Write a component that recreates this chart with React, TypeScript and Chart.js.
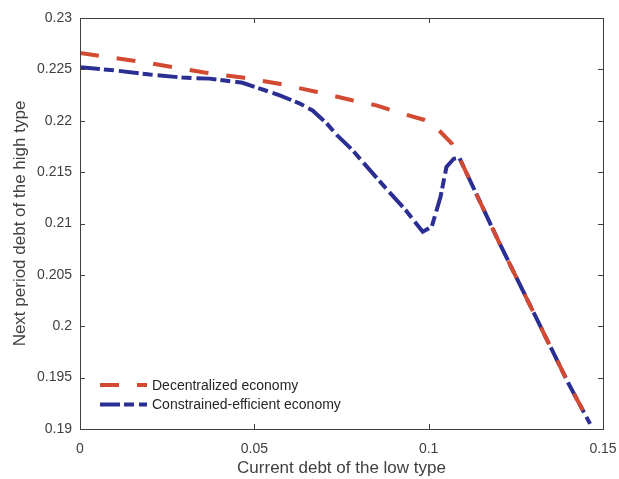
import React, { useEffect, useRef } from "react";
import { Chart, registerables } from "chart.js";

Chart.register(...registerables);

const decX = [0, 0.01, 0.02, 0.0357, 0.0466, 0.0571, 0.068, 0.078, 0.085, 0.0914, 0.0986, 0.1014, 0.1066, 0.1088, 0.12, 0.13, 0.14, 0.1463];
const decY = [0.2266, 0.2261, 0.2256, 0.2247, 0.2242, 0.2236, 0.2228, 0.222, 0.2215, 0.2208, 0.2201, 0.2196, 0.2178, 0.2164, 0.2083, 0.2014, 0.1945, 0.1905];

const ceX = [0, 0.01, 0.02, 0.0294, 0.0371, 0.0466, 0.0571, 0.0629, 0.0667, 0.0706, 0.0737, 0.078, 0.0857, 0.0934, 0.0983, 0.1009, 0.1034, 0.1051, 0.1072, 0.1088, 0.12, 0.13, 0.14, 0.1463];
const ceY = [0.2252, 0.2249, 0.2245, 0.2242, 0.2241, 0.2237, 0.2225, 0.2217, 0.221, 0.2198, 0.2186, 0.2172, 0.2142, 0.2113, 0.2092, 0.2097, 0.2126, 0.2155, 0.2163, 0.2164, 0.2083, 0.2014, 0.1945, 0.1905];

const xTicks = [0, 0.05, 0.1, 0.15];
const yTicks = [0.19, 0.195, 0.2, 0.205, 0.21, 0.215, 0.22, 0.225, 0.23];

const seriesNames = ["Decentralized economy", "Constrained-efficient economy"];
const RED = "#d24a32";
const BLUE = "#2b2e92";
const AXIS = "#404040";
const FONT = "'Liberation Sans', Arial, sans-serif";

const boxPlugin = {
  id: "matlabBox",
  afterDatasetsDraw(chart: any) {
    const { ctx, chartArea: a, scales } = chart;
    const xs = scales.x;
    const ys = scales.y;
    ctx.save();
    ctx.strokeStyle = AXIS;
    ctx.lineWidth = 1;
    ctx.strokeRect(Math.round(a.left) + 0.5, Math.round(a.top) + 0.5, Math.round(a.right - a.left), Math.round(a.bottom - a.top));
    const tl = 5;
    ctx.beginPath();
    xTicks.forEach((v) => {
      const px = Math.round(xs.getPixelForValue(v)) + 0.5;
      ctx.moveTo(px, a.bottom);
      ctx.lineTo(px, a.bottom - tl);
      ctx.moveTo(px, a.top);
      ctx.lineTo(px, a.top + tl);
    });
    yTicks.forEach((v) => {
      const py = Math.round(ys.getPixelForValue(v)) + 0.5;
      ctx.moveTo(a.left, py);
      ctx.lineTo(a.left + tl, py);
      ctx.moveTo(a.right, py);
      ctx.lineTo(a.right - tl, py);
    });
    ctx.stroke();

    // legend
    const lx = a.left + 20;
    const items = chart.data.datasets;
    items.forEach((ds: any, i: number) => {
      const ly = a.top + 367 + i * 19.5;
      ctx.save();
      ctx.strokeStyle = ds.borderColor;
      ctx.lineWidth = ds.borderWidth;
      ctx.setLineDash(ds.borderDash);
      ctx.beginPath();
      ctx.moveTo(lx, ly);
      ctx.lineTo(lx + 47, ly);
      ctx.stroke();
      ctx.restore();
      ctx.fillStyle = "#262626";
      ctx.font = `14px ${FONT}`;
      ctx.textBaseline = "middle";
      ctx.textAlign = "left";
      ctx.fillText(ds.label, lx + 52, ly + 1);
    });
    ctx.restore();
  },
};

export default function App() {
  const ref = useRef<HTMLCanvasElement | null>(null);
  useEffect(() => {
    document.body.style.margin = "0";
    const canvas = ref.current!;
    const chart = new Chart(canvas, {
      type: "line",
      data: {
        datasets: [
          {
            label: seriesNames[0],
            data: decX.map((x, i) => ({ x, y: decY[i] })),
            borderColor: RED,
            borderWidth: 4,
            borderDash: [19, 18],
            pointRadius: 0,
            tension: 0,
            fill: false,
          },
          {
            label: seriesNames[1],
            data: ceX.map((x, i) => ({ x, y: ceY[i] })),
            borderColor: BLUE,
            borderWidth: 4,
            borderDash: [20, 4, 10, 5],
            pointRadius: 0,
            tension: 0,
            fill: false,
          },
        ],
      },
      options: {
        responsive: false,
        animation: false,
        layout: { padding: { left: 0, top: 18, right: 16, bottom: 0 } },
        plugins: { legend: { display: false }, tooltip: { enabled: false } },
        scales: {
          x: {
            type: "linear",
            min: 0,
            max: 0.15,
            afterFit: (s: any) => { s.height = 50; s.paddingLeft = 0; s.paddingRight = 0; },
            afterBuildTicks: (s: any) => { s.ticks = xTicks.map((v) => ({ value: v })); },
            grid: { display: false, drawTicks: false },
            border: { display: false },
            ticks: {
              padding: 12,
              color: AXIS,
              font: { family: FONT, size: 14 },
              maxRotation: 0,
              callback: (v: any) => String(v),
            },
            title: {
              display: true,
              text: "Current debt of the low type",
              color: AXIS,
              font: { family: FONT, size: 17 },
              padding: { top: 2, bottom: 0 },
            },
          },
          y: {
            type: "linear",
            min: 0.19,
            max: 0.23,
            afterFit: (s: any) => { s.width = 80; s.paddingTop = 0; s.paddingBottom = 0; },
            afterBuildTicks: (s: any) => { s.ticks = yTicks.map((v) => ({ value: v })); },
            grid: { display: false, drawTicks: false },
            border: { display: false },
            ticks: {
              padding: 8,
              color: AXIS,
              font: { family: FONT, size: 14 },
              callback: (v: any) => String(Math.round(v * 1000) / 1000),
            },
            title: {
              display: true,
              text: "Next period debt of the high type",
              color: AXIS,
              font: { family: FONT, size: 17 },
              padding: { top: 10, bottom: 0 },
            },
          },
        },
      },
      plugins: [boxPlugin],
    });
    return () => chart.destroy();
  }, []);
  return (
    <div style={{ width: 619, height: 479, background: "#fff" }}>
      <canvas ref={ref} width={619} height={479} style={{ display: "block" }} />
    </div>
  );
}
